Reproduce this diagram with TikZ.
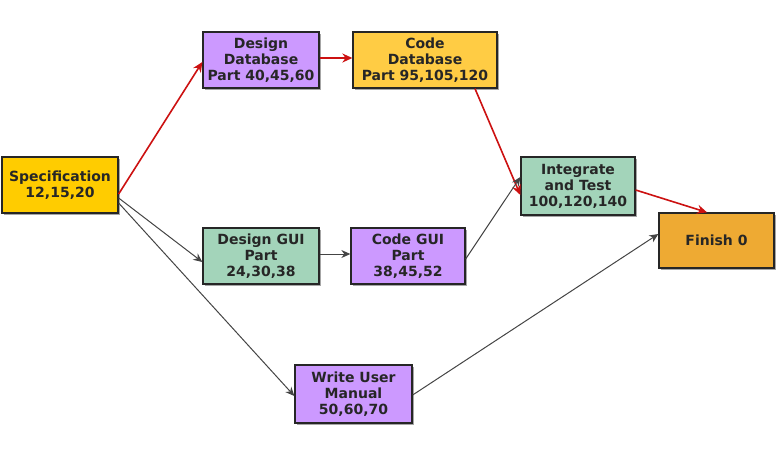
\documentclass[tikz,border=0pt]{standalone}
\usepackage{fontspec}
\setmainfont{DejaVu Sans}
\usetikzlibrary{arrows.meta,shadows}
\definecolor{gold}{HTML}{FFCC00}
\definecolor{lyellow}{HTML}{FFCC44}
\definecolor{purp}{HTML}{CC99FF}
\definecolor{mint}{HTML}{A3D4BA}
\definecolor{orng}{HTML}{EEAA33}
\definecolor{redline}{HTML}{CC1111}
\definecolor{darkline}{HTML}{444444}
\tikzset{
  task/.style={draw=black!85, line width=1.3pt, inner sep=0pt, align=center,
    font=\fontsize{14}{16}\selectfont\bfseries, text=black!85,
    drop shadow={shadow xshift=1.5pt, shadow yshift=-1.5pt, fill=gray!70, opacity=1}},
  crit/.style={draw=redline, line width=1.6pt, -{Stealth[length=10pt,width=9pt]}},
  norm/.style={draw=darkline, line width=1pt, -{Stealth[length=9pt,width=8pt]}},
}
\begin{document}
\begin{tikzpicture}[x=1pt,y=-1pt]
\useasboundingbox (0,0) rectangle (784,453);
\node[task, fill=gold, minimum width=116pt, minimum height=56pt] (spec) at (60,185) {Specification\\12,15,20};
\node[task, fill=purp, minimum width=116pt, minimum height=56pt] (ddb) at (261,60) {Design\\Database\\Part 40,45,60};
\node[task, fill=lyellow, minimum width=144pt, minimum height=56pt] (cdb) at (425,60) {Code\\Database\\Part 95,105,120};
\node[task, fill=mint, minimum width=116pt, minimum height=56pt] (dgui) at (261,256) {Design GUI\\Part\\24,30,38};
\node[task, fill=purp, minimum width=114pt, minimum height=56pt] (cgui) at (408,256) {Code GUI\\Part\\38,45,52};
\node[task, fill=mint, minimum width=114pt, minimum height=58pt] (integ) at (578,186) {Integrate\\and Test\\100,120,140};
\node[task, fill=orng, minimum width=115pt, minimum height=55pt] (fin) at (716.5,240.5) {Finish 0};
\node[task, fill=purp, minimum width=117pt, minimum height=58pt] (wum) at (353.5,394) {Write User\\Manual\\50,60,70};

\draw[crit] ([yshift=-9pt]spec.east) -- ([yshift=-2pt]ddb.west);
\draw[crit] ([yshift=2pt]ddb.east) -- ([yshift=2pt]cdb.west);
\draw[crit] ([xshift=50pt]cdb.south) -- ([yshift=-9pt]integ.west);
\draw[crit] ([yshift=-4pt]integ.east) -- ([xshift=-9.5pt]fin.north);
\draw[norm] ([yshift=-13pt]spec.east) -- ([yshift=-6pt]dgui.west);
\draw[norm] ([yshift=2pt]dgui.east) -- ([yshift=2pt]cgui.west);
\draw[norm] ([yshift=-3pt]cgui.east) -- ([yshift=9pt]integ.west);
\draw[norm] ([yshift=-18pt]spec.east) -- ([yshift=-2pt]wum.west);
\draw[norm] ([yshift=-1pt]wum.east) -- ([yshift=6.5pt]fin.west);
\end{tikzpicture}
\end{document}
